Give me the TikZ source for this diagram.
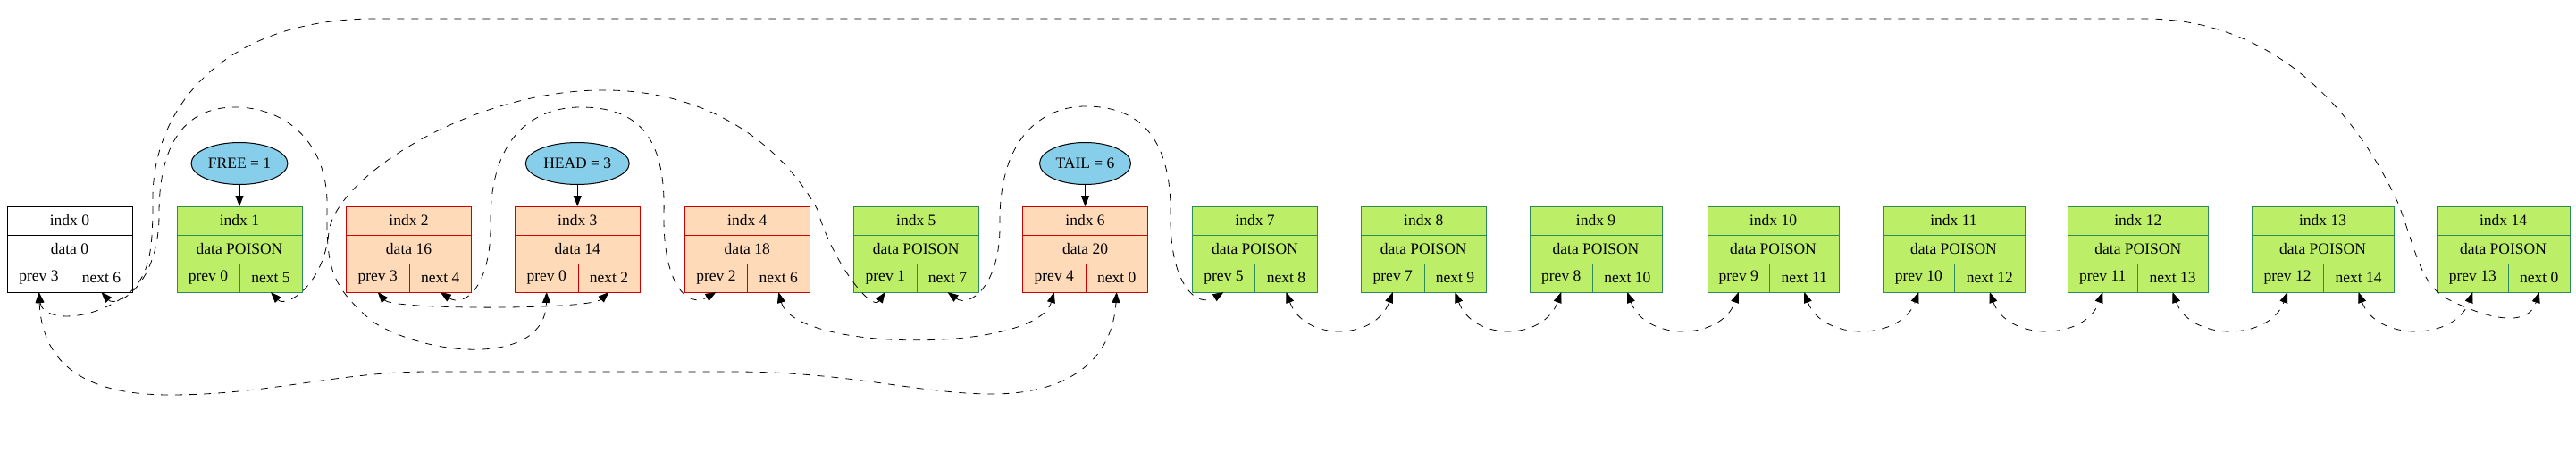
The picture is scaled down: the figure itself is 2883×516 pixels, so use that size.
\documentclass[tikz,border=0pt]{standalone}
\usepackage{fontspec}
\setmainfont{Liberation Serif}
\usetikzlibrary{arrows.meta,positioning,shapes.geometric}

\definecolor{poisonfill}{HTML}{BCEE68}
\definecolor{poisondraw}{HTML}{2E8B57}
\definecolor{busyfill}{HTML}{FFDAB9}
\definecolor{busydraw}{HTML}{CD0000}
\definecolor{ptrfill}{HTML}{87CEEB}

\begin{document}
\begin{tikzpicture}[
  x=1pt, y=-1pt,
  >={Triangle[length=12pt,width=9pt]},
  font=\fontsize{17.5}{21}\selectfont,
  cell/.style={rectangle, draw, line width=1pt, inner sep=0pt, outer sep=0pt,
               minimum height=32pt},
  zerocell/.style={cell, draw=black, fill=white},
  freecell/.style={cell, draw=poisondraw, fill=poisonfill},
  busycell/.style={cell, draw=busydraw, fill=busyfill},
  ptrnode/.style={ellipse, draw, fill=ptrfill, line width=1pt, inner sep=0pt,
                  minimum height=47pt},
  ptr/.style={->, line width=1pt},
  link/.style={<->, dash pattern=on 8pt off 8pt, line width=0.8pt}
]
  \useasboundingbox (0,0) rectangle (2883,516);

  % list cells: index / left / split / right / data / prev / next / style
  \foreach \k/\lft/\spl/\rgt/\dat/\pv/\nx/\sty in {
      0/8/79/148/0/3/6/zerocell,
      1/198/268/338/POISON/0/5/freecell,
      2/387.5/458/527.5/16/3/4/busycell,
      3/576.5/647/716/14/0/2/busycell,
      4/766.5/836.5/906/18/2/6/busycell,
      5/955.5/1026/1095/POISON/1/7/freecell,
      6/1144.5/1215/1284.5/20/4/0/busycell,
      7/1334.5/1404.5/1474.5/POISON/5/8/freecell,
      8/1523.5/1594/1663/POISON/7/9/freecell,
      9/1712/1782.5/1860/POISON/8/10/freecell,
      10/1911/1980.5/2058/POISON/9/11/freecell,
      11/2107/2187.5/2266/POISON/10/12/freecell,
      12/2314.5/2392/2471/POISON/11/13/freecell,
      13/2520/2600/2679/POISON/12/14/freecell,
      14/2727/2807.5/2876/POISON/13/0/freecell} {
    \node[\sty, minimum width={(\rgt-\lft)*1pt}] (i\k) at ({(\lft+\rgt)/2},247) {indx \k};
    \node[\sty, minimum width={(\rgt-\lft)*1pt}] (d\k) at ({(\lft+\rgt)/2},279) {data \dat};
    \node[\sty, minimum width={(\spl-\lft)*1pt}] (p\k) at ({(\lft+\spl)/2},311) {prev \pv};
    \node[\sty, minimum width={(\rgt-\spl)*1pt}] (n\k) at ({(\spl+\rgt)/2},311) {next \nx};
  }

  % pointers
  \node[ptrnode, minimum width=108pt, above=24pt of i1] (free) {FREE = 1};
  \node[ptrnode, minimum width=116pt, above=24pt of i3] (head) {HEAD = 3};
  \node[ptrnode, minimum width=102pt, above=24pt of i6] (tail) {TAIL = 6};
  \draw[ptr] (free) -- (i1);
  \draw[ptr] (head) -- (i3);
  \draw[ptr] (tail) -- (i6);

  % links below the row
  \draw[link] (p0.south) .. controls (47,400) and (85,442) .. (190,442)
              .. controls (300,442) and (380,416) .. (480,416) -- (820,416)
              .. controls (950,416) and (1030,441) .. (1110,441)
              .. controls (1200,441) and (1245,400) .. (n6.south);
  \draw[link] (p2.south) .. controls (440,347) and (660,347) .. (n3.south);
  \draw[link] (n4.south) .. controls (890,395) and (1160,395) .. (p6.south);
  \foreach \a/\b in {7/8,8/9,9/10,10/11,11/12,12/13,13/14}
    \draw[link] (n\a.south) .. controls +(20,55) and +(-20,55) .. (p\b.south);

  % links over the row
  \draw[link] (p0.south) .. controls (48,362) and (110,360) .. (150,323)
              .. controls (170,300) and (171,270) .. (171,220)
              .. controls (172,120) and (250,21) .. (420,21) -- (2400,21)
              .. controls (2550,21) and (2640,130) .. (2685,230)
              .. controls (2705,285) and (2710,320) .. (2740,335)
              .. controls (2790,360) and (2830,365) .. (n14.south);
  \draw[link] (n0.south) .. controls (130,345) and (178,320) .. (178,240)
              .. controls (178,150) and (215,120) .. (263,120)
              .. controls (320,120) and (367,160) .. (366,230)
              .. controls (365,300) and (370,320) .. (417,360)
              .. controls (480,400) and (610,410) .. (p3.south);
  \draw[link] (n1.south) .. controls (320,345) and (362,320) .. (368,260)
              .. controls (375,200) and (520,105) .. (667,101)
              .. controls (800,98) and (880,170) .. (915,235)
              .. controls (930,290) and (975,350) .. (p5.south);
  \draw[link] (n2.south) .. controls (520,345) and (550,320) .. (549,250)
              .. controls (548,150) and (600,120) .. (650,120)
              .. controls (720,120) and (745,160) .. (743,240)
              .. controls (742,320) and (770,345) .. (p4.south);
  \draw[link] (n5.south) .. controls (1085,345) and (1120,320) .. (1119,250)
              .. controls (1118,150) and (1170,119) .. (1215,119)
              .. controls (1280,119) and (1311,160) .. (1310,240)
              .. controls (1309,320) and (1340,345) .. (p7.south);
\end{tikzpicture}
\end{document}
